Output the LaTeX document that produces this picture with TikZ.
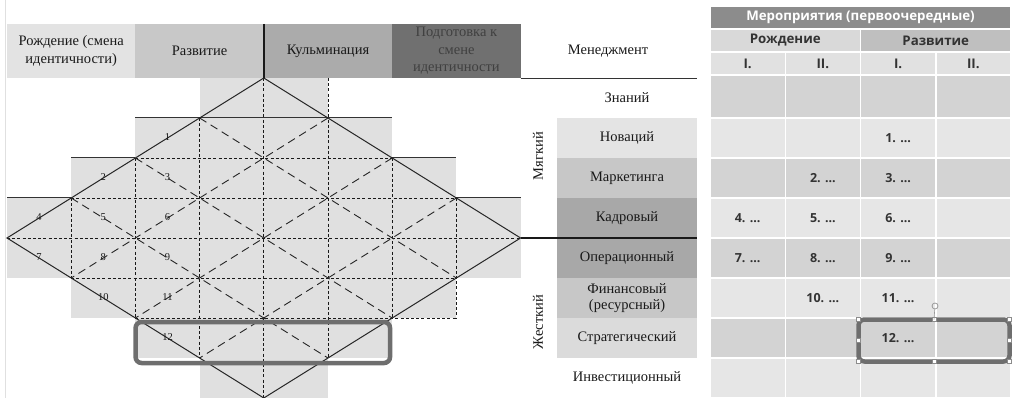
\documentclass[tikz,border=0pt]{standalone}
\usepackage{fontspec}
\setmainfont{Liberation Serif}
\newfontfamily\tabfont{Open Sans}
\usetikzlibrary{positioning}
\definecolor{cellfill}{HTML}{E0E0E0}
\definecolor{stageA}{HTML}{E3E3E3}
\definecolor{stageB}{HTML}{C8C8C8}
\definecolor{stageC}{HTML}{ABABAB}
\definecolor{stageD}{HTML}{707070}
\definecolor{mLight}{HTML}{E4E4E4}
\definecolor{mMid}{HTML}{C7C7C7}
\definecolor{mDark}{HTML}{A8A8A8}
\definecolor{evtgray}{HTML}{8C8C8C}
\definecolor{brthgray}{HTML}{D9D9D9}
\definecolor{grwgray}{HTML}{BFBFBF}
\definecolor{subgray}{HTML}{E1E1E1}
\definecolor{rowdark}{HTML}{D3D3D3}
\definecolor{rowlight}{HTML}{E6E6E6}
\definecolor{boxgray}{HTML}{6E6E6E}
\tikzset{
	stage/.style = {minimum width=128.4pt, minimum height=54pt, inner sep=0pt, outer sep=0pt,
	                align=center, text=black!90, font=\fontsize{14.5}{17.5}\selectfont},
	mrow/.style = {minimum width=140pt, minimum height=40pt, inner sep=0pt, outer sep=0pt,
	               align=center, text=black!90, font=\fontsize{14.5}{16}\selectfont},
	sidelbl/.style = {rotate=90, inner sep=0pt, text=black!90, font=\fontsize{14.5}{16}\selectfont},
	num/.style = {inner sep=0pt, text=black!90, font=\fontsize{10.5}{10.5}\selectfont},
	edge line/.style = {line width=1pt, black!85},
	step line/.style = {line width=1pt, black!80},
	grid line/.style = {line width=0.9pt, black!90, dash pattern=on 3pt off 2.2pt},
	cross line/.style = {line width=0.9pt, black!85, dash pattern=on 8pt off 5pt},
	split line/.style = {line width=2.6pt, black!90},
	cell/.style = {draw=white, line width=1.5pt, minimum width=75.25pt, minimum height=40pt,
	               inner sep=0pt, outer sep=0pt},
	thead/.style = {cell, minimum height=23pt, text=black!80, font=\tabfont\bfseries\fontsize{13.3}{15}\selectfont},
	entry/.style = {inner sep=0pt, text=black!80, font=\tabfont\bfseries\fontsize{12.5}{14}\selectfont},
	selbox/.style = {draw=boxgray, line width=4.5pt, rounded corners=6pt, inner sep=0pt, outer sep=0pt},
	handle/.style = {draw=black!45, fill=white, line width=0.5pt, minimum size=4pt, inner sep=0pt},
}
\begin{document}
\begin{tikzpicture}[x=1pt, y=-1pt]
	\useasboundingbox (0,0) rectangle (1012,398);
	\draw[black!12, line width=1pt] (5,0) -- (5,398);

	% lattice of the diamond
	\foreach \i in {0,...,8}
		\foreach \j in {0,...,8}
			\coordinate (p\i\j) at ({7+64.2*\i},{78+40*\j});

	\foreach \j/\a/\b in {0/3/5,1/2/6,2/1/7,3/0/8,4/0/8,5/1/7,6/2/6,7/3/5}{
		\pgfmathtruncatemacro\k{\j+1}
		\fill[cellfill] (p\a\j) rectangle (p\b\k);
	}
	\foreach \i/\ja/\jb in {1/3/5,2/2/6,3/1/7,4/0/8,5/0/7,6/2/6,7/3/6}
		\draw[grid line] (p\i\ja) -- (p\i\jb);
	\foreach \j/\ia/\ib in {2/2/6,3/1/7,4/0/8,5/1/7,6/2/7}
		\draw[grid line] (p\ia\j) -- (p\ib\j);
	\foreach \a/\b in {51/15,62/26,73/37,31/75,22/66,13/57}
		\draw[cross line] (p\a) -- (p\b);
	\draw[step line] (p21) -- (p61);
	\draw[step line] (p12) -- (p22) (p62) -- (p72);
	\draw[step line] (p03) -- (p13) (p73) -- (p83);
	\draw[edge line] (p40) -- (p04) -- (p48) -- (p84) -- cycle;

	\foreach \n/\i/\j in {1/2/1,2/1/2,3/2/2,4/0/3,5/1/3,6/2/3,7/0/4,8/1/4,9/2/4,10/1/5,11/2/5,12/2/6}
		\node[num] (n\n) at ({7+64.2*(\i+0.5)},{78+40*(\j+0.5)-1}) {\n};

	\node[selbox, minimum width=254.5pt, minimum height=41pt] (sell) at (262.8,342.5) {};

	% stages
	\node[stage, fill=stageA] (birth) at (71.2,51) {Рождение (смена\\идентичности)};
	\node[stage, fill=stageB, right=0pt of birth] (growth) {Развитие};
	\node[stage, fill=stageC, right=0pt of growth] (peak) {Кульминация};
	\node[stage, fill=stageD, text=black!75, right=0pt of peak] (prep) {Подготовка к\\смене\\идентичности};
	\draw[split line] (growth.north east) -- (growth.south east);

	% management
	\node[mrow] (mgmt) at (608,51) {Менеджмент};
	\node[mrow] (knw) at (627,98) {Знаний};
	\node[mrow, fill=mLight, below=0pt of knw] (nov) {Новаций};
	\node[mrow, fill=mMid, below=0pt of nov] (mkt) {Маркетинга};
	\node[mrow, fill=mDark, below=0pt of mkt] (hr) {Кадровый};
	\node[mrow, fill=mDark, below=0pt of hr] (ops) {Операционный};
	\node[mrow, fill=mMid, below=0pt of ops] (fin) {Финансовый\\(ресурсный)};
	\node[mrow, fill=mLight!96!black, below=0pt of fin] (strat) {Стратегический};
	\node[mrow, below=0pt of strat] (inv) {Инвестиционный};
	\node[sidelbl] (soft) at (538,156) {Мягкий};
	\node[sidelbl] (hard) at (538,322) {Жесткий};
	\draw[line width=0.8pt, black!80] (prep.south east) -- (knw.north east);
	\draw[split line] (p84) -- (ops.north east);

	% measures
	\node[thead, fill=evtgray, text=white, minimum width=301pt] (evt) at (860.5,17.5) {Мероприятия (первоочередные)};
	\node[thead, fill=brthgray, minimum width=150.5pt, below right=0pt and 0pt of evt.south west] (brth) {Рождение};
	\node[thead, fill=grwgray, minimum width=150.5pt, right=0pt of brth] (grw) {Развитие};
	\node[thead, fill=subgray, below right=0pt and 0pt of brth.south west] (s1) {I.};
	\node[thead, fill=subgray, right=0pt of s1] (s2) {II.};
	\node[thead, fill=subgray, right=0pt of s2] (s3) {I.};
	\node[thead, fill=subgray, right=0pt of s3] (s4) {II.};
	\foreach \c in {1,...,4}{
		\node[cell, fill=rowdark, minimum height=43pt, below=0pt of s\c] (c\c1) {};
		\foreach \r in {2,...,8}{
			\pgfmathtruncatemacro\q{\r-1}
			\pgfmathtruncatemacro\odd{mod(\r,2)}
			\ifnum\odd=1 \def\rf{rowdark}\else\def\rf{rowlight}\fi
			\node[cell, fill=\rf, below=0pt of c\c\q] (c\c\r) {};
		}
	}
	\foreach \t/\c/\r in {1/3/2,2/2/3,3/3/3,4/1/4,5/2/4,6/3/4,7/1/5,8/2/5,9/3/5,10/2/6,11/3/6,12/3/7}
		\node[entry] (e\t) at (c\c\r) {\t. ...};

	\node[selbox, minimum width=151pt, minimum height=42pt] (selr) at (934,340.5) {};
	\foreach \a in {north west,north,north east,east,south east,south,south west,west}
		\node[handle] at (selr.\a) {};
	\node[draw=black!40, circle, line width=0.8pt, minimum size=6pt, inner sep=0pt] (rot) at (935,306) {};
	\draw[black!40, line width=0.6pt] (rot) -- (selr.north);
\end{tikzpicture}
\end{document}
